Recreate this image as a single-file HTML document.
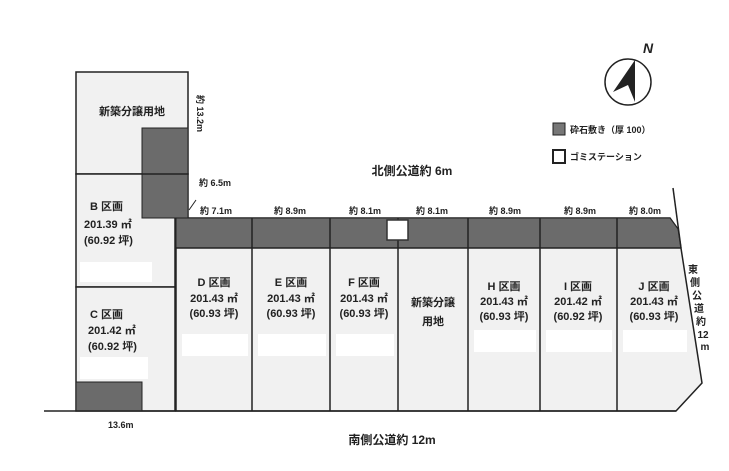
<!DOCTYPE html>
<html><head><meta charset="utf-8"><style>
html,body{margin:0;padding:0;background:#fff;}
svg{display:block}
text{font-family:"Liberation Sans","Noto Sans CJK JP",sans-serif;font-weight:bold;fill:#222}
</style></head><body>
<svg width="729" height="471" viewBox="0 0 729 471" xmlns="http://www.w3.org/2000/svg">
<rect width="729" height="471" fill="#fff"/>
<!-- lot backgrounds -->
<g fill="#f1f1f1" stroke="#222" stroke-width="1.5">
<rect x="76" y="72" width="112" height="102"/>
<polygon points="76,174 188,174 188,218 175,218 175,287 76,287"/>
<rect x="76" y="287" width="99" height="124"/>
<polygon points="176,218 670,218 678,229 702,383 676,411 176,411"/>
</g>
<!-- dark gravel -->
<g fill="#6b6b6b" stroke="#222" stroke-width="1">
<rect x="142" y="128" width="46" height="90"/>
<rect x="76" y="382" width="66" height="29"/>
<polygon points="176,218 670,218 678,229 681,248 176,248"/>
</g>
<line x1="142" y1="174" x2="188" y2="174" stroke="#222" stroke-width="1.5"/>
<!-- lot dividers -->
<g stroke="#222" stroke-width="1.5">
<line x1="176" y1="248" x2="681" y2="248"/>
<line x1="252" y1="218" x2="252" y2="411"/>
<line x1="330" y1="218" x2="330" y2="411"/>
<line x1="398" y1="248" x2="398" y2="411"/>
<line x1="468" y1="218" x2="468" y2="411"/>
<line x1="540" y1="218" x2="540" y2="411"/>
<line x1="617" y1="218" x2="617" y2="411"/>
<line x1="44" y1="411" x2="676" y2="411"/>
<line x1="673" y1="188" x2="681" y2="248"/>
<line x1="398" y1="218" x2="398" y2="248"/>
<line x1="196" y1="200" x2="189" y2="210" stroke-width="1"/>
</g>
<!-- garbage station -->
<rect x="387" y="220" width="21" height="20" fill="#fff" stroke="#333" stroke-width="1.5"/>
<!-- white masks -->
<g fill="#fff">
<rect x="80" y="262" width="72" height="20"/>
<rect x="80" y="357" width="68" height="22"/>
<rect x="182" y="334" width="66" height="22"/>
<rect x="258" y="334" width="68" height="22"/>
<rect x="336" y="334" width="58" height="22"/>
<rect x="474" y="330" width="62" height="22"/>
<rect x="546" y="330" width="66" height="22"/>
<rect x="623" y="330" width="64" height="22"/>
</g>
<!-- texts -->
<g font-size="11">
<text x="132" y="115" text-anchor="middle">新築分譲用地</text>
<text x="90" y="210">B 区画</text>
<text x="84" y="228">201.39 ㎡</text>
<text x="84" y="244">(60.92 坪)</text>
<text x="90" y="318">C 区画</text>
<text x="88" y="334">201.42 ㎡</text>
<text x="88" y="350">(60.92 坪)</text>
<text x="214" y="286" text-anchor="middle">D 区画</text>
<text x="214" y="302" text-anchor="middle">201.43 ㎡</text>
<text x="214" y="317" text-anchor="middle">(60.93 坪)</text>
<text x="291" y="286" text-anchor="middle">E 区画</text>
<text x="291" y="302" text-anchor="middle">201.43 ㎡</text>
<text x="291" y="317" text-anchor="middle">(60.93 坪)</text>
<text x="364" y="286" text-anchor="middle">F 区画</text>
<text x="364" y="302" text-anchor="middle">201.43 ㎡</text>
<text x="364" y="317" text-anchor="middle">(60.93 坪)</text>
<text x="433" y="306" text-anchor="middle">新築分譲</text>
<text x="433" y="325" text-anchor="middle">用地</text>
<text x="504" y="290" text-anchor="middle">H 区画</text>
<text x="504" y="305" text-anchor="middle">201.43 ㎡</text>
<text x="504" y="320" text-anchor="middle">(60.93 坪)</text>
<text x="578" y="290" text-anchor="middle">I 区画</text>
<text x="578" y="305" text-anchor="middle">201.42 ㎡</text>
<text x="578" y="320" text-anchor="middle">(60.92 坪)</text>
<text x="654" y="290" text-anchor="middle">J 区画</text>
<text x="654" y="305" text-anchor="middle">201.43 ㎡</text>
<text x="654" y="320" text-anchor="middle">(60.93 坪)</text>
</g>
<g font-size="9">
<text x="216" y="214" text-anchor="middle">約 7.1m</text>
<text x="290" y="214" text-anchor="middle">約 8.9m</text>
<text x="365" y="214" text-anchor="middle">約 8.1m</text>
<text x="432" y="214" text-anchor="middle">約 8.1m</text>
<text x="505" y="214" text-anchor="middle">約 8.9m</text>
<text x="580" y="214" text-anchor="middle">約 8.9m</text>
<text x="645" y="214" text-anchor="middle">約 8.0m</text>
<text x="199" y="186">約 6.5m</text>
<text x="108" y="428">13.6m</text>
<text transform="translate(197,95) rotate(90)">約 13.2m</text>
<text x="570" y="133">砕石敷き（厚 100）</text>
<text x="570" y="160">ゴミステーション</text>
</g>
<g font-size="10" text-anchor="middle">
<text x="693" y="273">東</text><text x="695" y="286">側</text><text x="697" y="299">公</text>
<text x="699" y="312">道</text><text x="701" y="325">約</text><text x="703" y="338">12</text><text x="705" y="350">m</text>
</g>
<text x="412" y="175" font-size="12" text-anchor="middle">北側公道約 6m</text>
<text x="392" y="444" font-size="12" text-anchor="middle">南側公道約 12m</text>
<!-- legend boxes -->
<rect x="553" y="123" width="12" height="12" fill="#777" stroke="#222"/>
<rect x="553" y="150" width="12" height="13" fill="#fff" stroke="#222" stroke-width="2"/>
<!-- compass -->
<circle cx="628" cy="82" r="23" fill="#fff" stroke="#222" stroke-width="1.5"/>
<polygon points="635,60 613,92 628,85 635,102" fill="#222"/>
<text x="643" y="53" font-size="14" font-style="italic" font-family="Liberation Serif,serif" font-weight="normal">N</text>
</svg>
</body></html>
